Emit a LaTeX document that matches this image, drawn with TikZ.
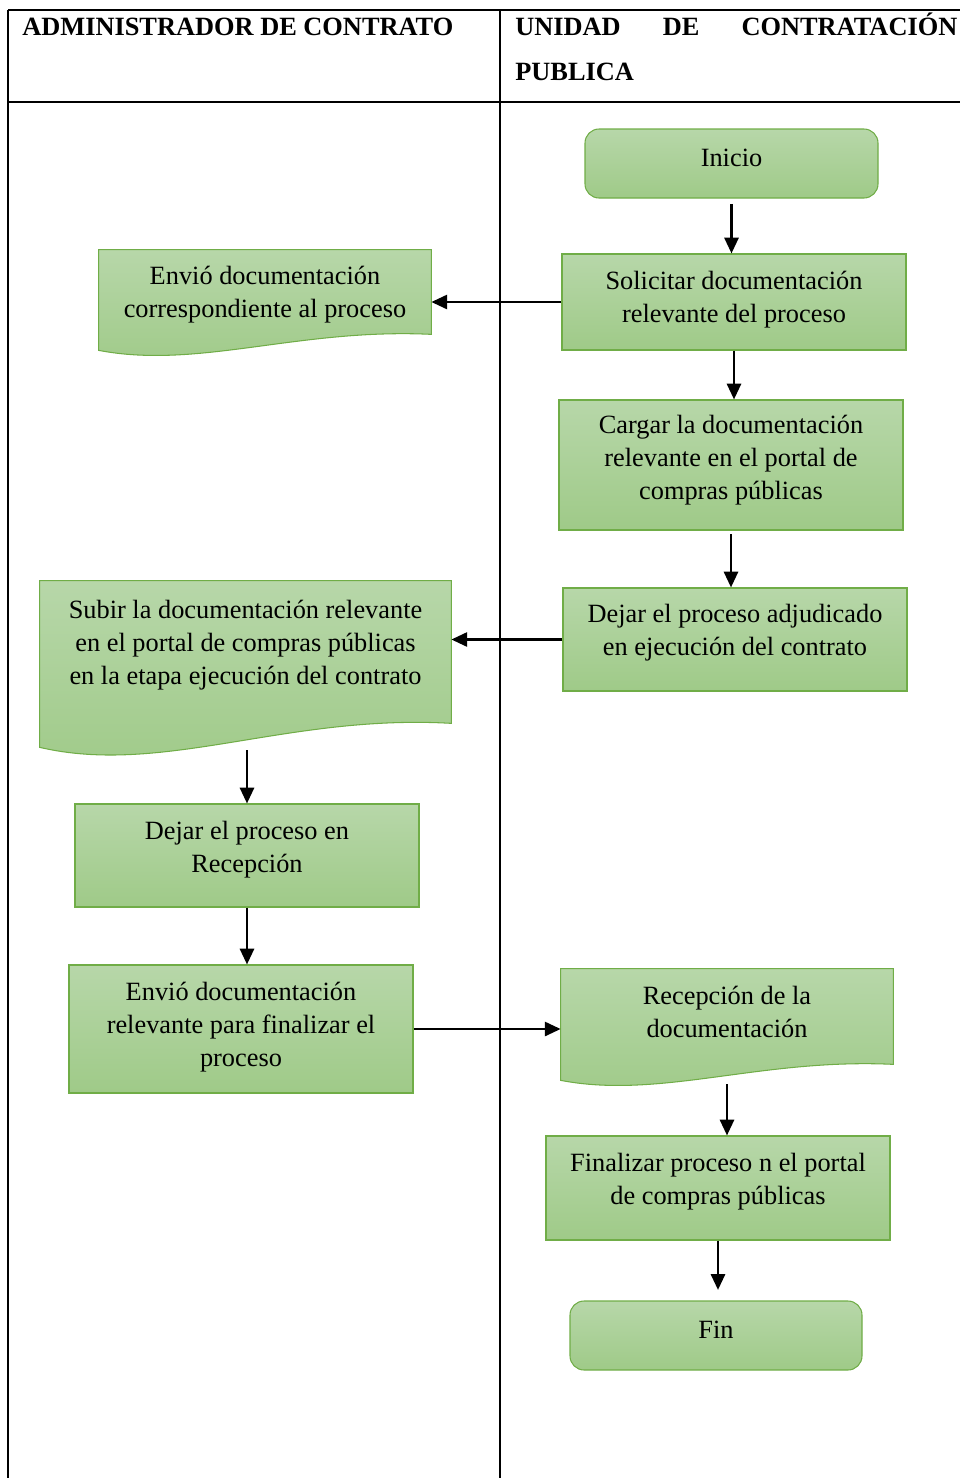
\documentclass[tikz,border=0pt]{standalone}
\usepackage{fontspec}
\setmainfont{Liberation Serif}
\usetikzlibrary{arrows.meta,calc,backgrounds}
\definecolor{gtop}{HTML}{B7D7A9}
\definecolor{gbot}{HTML}{9FCA88}
\definecolor{gline}{HTML}{70AD47}
\tikzset{
  box/.style 2 args={minimum width=#1*0.02cm, minimum height=#2*0.02cm, inner sep=0pt, align=center, font=\fontsize{15}{18.7}\selectfont},
  tup/.style={text depth=#1},
  stepbox/.style={draw=gline, line width=0.6pt, top color=gtop, bottom color=gbot},
  term/.style={stepbox, rounded corners=8pt},
  docfill/.style={draw=gline, line width=0.6pt, top color=gtop, bottom color=gbot},
  arr/.style={-{Triangle[length=9pt,width=8pt]}, line width=1.5pt},
  grid/.style={line width=1.1pt}
}
\newcommand\docwave[2]{%
  \path[docfill] (#1.south east) -- (#1.north east) -- (#1.north west) -- ($(#1.south west)+(0,#2)$)
    .. controls ($(#1.south west)!0.3!(#1.south east)+(0,2.2*#2)$) and ($(#1.south west)!0.6!(#1.south east)+(0,-0.4*#2)$) .. (#1.south east) -- cycle;}
\begin{document}
\begin{tikzpicture}[x=0.02cm, y=-0.02cm]
\useasboundingbox (0,0) rectangle (960,1478);
\draw[grid] (8,10) -- (960,10);
\draw[grid] (8,102) -- (960,102);
\draw[grid] (8,10) -- (8,1478);
\draw[grid] (500,10) -- (500,1478);
\node[anchor=base west, inner sep=0pt, font=\fontsize{15}{25.5}\selectfont\bfseries] (hadm) at (22,35) {ADMINISTRADOR DE CONTRATO};
\node[anchor=north west, inner sep=0pt, text width=442*0.02cm, align=left, font=\fontsize{15}{25.5}\selectfont\bfseries] (hucp) at (515,13) {UNIDAD\hfill DE\hfill CONTRATACIÓN\\PUBLICA};
\node[box={293}{69}, term, tup=7pt] (ini) at (731.5,163.5) {Inicio};
\node[box={344}{96}, stepbox, tup=5.5pt] (sol) at (734,302) {Solicitar documentación\\relevante del proceso};
\node[box={332}{84}, tup=0pt] (env1) at (265,292) {Envió documentación\\correspondiente al proceso};
\node[box={344}{130}, stepbox, tup=9pt] (car) at (731,465) {Cargar la documentación\\relevante en el portal de\\compras públicas};
\node[box={344}{103}, stepbox, tup=11.3pt] (dej1) at (735,639.5) {Dejar el proceso adjudicado\\en ejecución del contrato};
\node[box={411}{142}, tup=10.7pt] (sub) at (245.5,652) {Subir la documentación relevante\\en el portal de compras públicas\\en la etapa ejecución del contrato};
\node[box={344}{103}, stepbox, tup=10pt] (dej2) at (247,855.5) {Dejar el proceso en\\Recepción};
\node[box={344}{128}, stepbox, tup=5.6pt] (env2) at (241,1029) {Envió documentación\\relevante para finalizar el\\proceso};
\node[box={332}{95}, tup=5.7pt] (rec) at (727,1016.5) {Recepción de la\\documentación};
\node[box={344}{104}, stepbox, tup=10pt] (fin1) at (718,1188) {Finalizar proceso n el portal\\de compras públicas};
\node[box={292}{69}, term, tup=7pt] (fin) at (716,1335.5) {Fin};
\begin{pgfonlayer}{background}
\docwave{env1}{16}
\docwave{sub}{24}
\docwave{rec}{16}
\end{pgfonlayer}
\draw[arr] ([yshift=-3pt]ini.south) -- (ini.south |- sol.north);
\draw[arr] (sol.west) -- (env1.east |- sol.west);
\draw[arr] (sol.south) -- (sol.south |- car.north);
\draw[arr] ([yshift=-2pt]car.south) -- (car.south |- dej1.north);
\draw[arr] (dej1.west) -- (sub.east |- dej1.west);
\draw[arr] ([yshift=-0.54cm]sub.south -| dej2.north) -- (dej2.north);
\draw[arr] (dej2.south) -- (dej2.south |- env2.north);
\draw[arr] (env2.east) -- (rec.west |- env2.east);
\draw[arr] ([yshift=-0.4cm]rec.south) -- (rec.south |- fin1.north);
\draw[arr] (fin1.south) -- ([yshift=6pt]fin1.south |- fin.north);
\end{tikzpicture}
\end{document}
